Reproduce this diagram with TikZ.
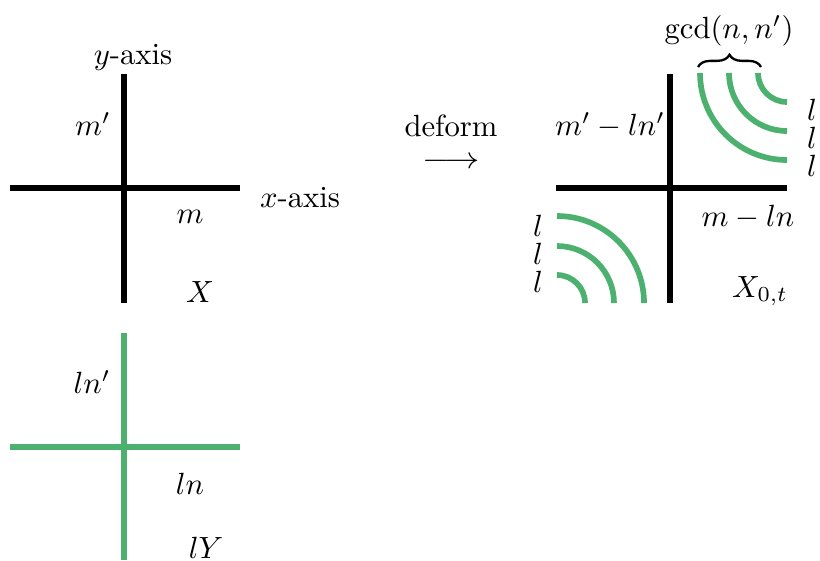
\documentclass[tikz,border=0pt]{standalone}
\usetikzlibrary{decorations.pathreplacing}
\definecolor{grn}{RGB}{76,176,110}
\begin{document}
\begin{tikzpicture}[x=0.326pt,y=-0.326pt,
  axis/.style={line width=1.85pt,black},
  gaxis/.style={line width=1.85pt,grn},
  lab/.style={inner sep=0pt}]
\useasboundingbox (0,0) rectangle (820,560);
% left black cross
\coordinate (aT) at (124,74); \coordinate (aB) at (124,303);
\coordinate (aL) at (10,188); \coordinate (aR) at (240,188);
\draw[axis] (aT) -- (aB);
\draw[axis] (aL) -- (aR);
\node[lab] (yax) at (133,57) {$y$-axis};
\node[lab] (mp) at (93,124) {$m'$};
\node[lab] (xax) at (300,198) {$x$-axis};
\node[lab] (m) at (190,217) {$m$};
\node[lab] (X) at (200,292) {$X$};
% green cross
\coordinate (gT) at (124,333); \coordinate (gB) at (124,560);
\coordinate (gL) at (10,447); \coordinate (gR) at (240,447);
\draw[gaxis] (gT) -- (gB);
\draw[gaxis] (gL) -- (gR);
\node[lab] (lnp) at (92,382) {$ln'$};
\node[lab] (ln) at (190,484) {$ln$};
\node[lab] (lY) at (206,548) {$lY$};
% deform
\node[lab] (def) at (451,126) {deform};
\node[lab] (arr) at (451,163) {\scalebox{1.15}[1]{$\longrightarrow$}};
% right black cross
\coordinate (bT) at (670,74); \coordinate (bB) at (670,303);
\coordinate (bL) at (556,188); \coordinate (bR) at (787,188);
\draw[axis] (bT) -- (bB);
\draw[axis] (bL) -- (bR);
\node[lab] (mpl) at (610,125) {$m'-ln'$};
\node[lab] (mln) at (748,217) {$m-ln$};
\node[lab] (X0t) at (760,291) {$X_{0,t}$};
% top-right arcs
\coordinate (c1) at (787,73);
\foreach \r in {29,58,87}
  \draw[gaxis] ([xshift=-\r*0.326pt]c1) arc[start angle=180,end angle=90,radius=\r];
\node[lab] (l1) at (812,110) {$l$};
\node[lab] (l2) at (812,138) {$l$};
\node[lab] (l3) at (812,166) {$l$};
\coordinate (brL) at (698,67); \coordinate (brR) at (761,67);
\draw[line width=0.75pt,decorate,decoration={brace,amplitude=4pt}] (brL) -- (brR);
\node[lab] (gcd) at (729,31) {$\gcd(n,n')$};
% bottom-left arcs
\coordinate (c2) at (557,303);
\foreach \r in {28,57,87}
  \draw[gaxis] ([yshift=\r*0.326pt]c2) arc[start angle=270,end angle=360,radius=\r];
\node[lab] (l4) at (538,226) {$l$};
\node[lab] (l5) at (538,254) {$l$};
\node[lab] (l6) at (538,282) {$l$};
\end{tikzpicture}
\end{document}
